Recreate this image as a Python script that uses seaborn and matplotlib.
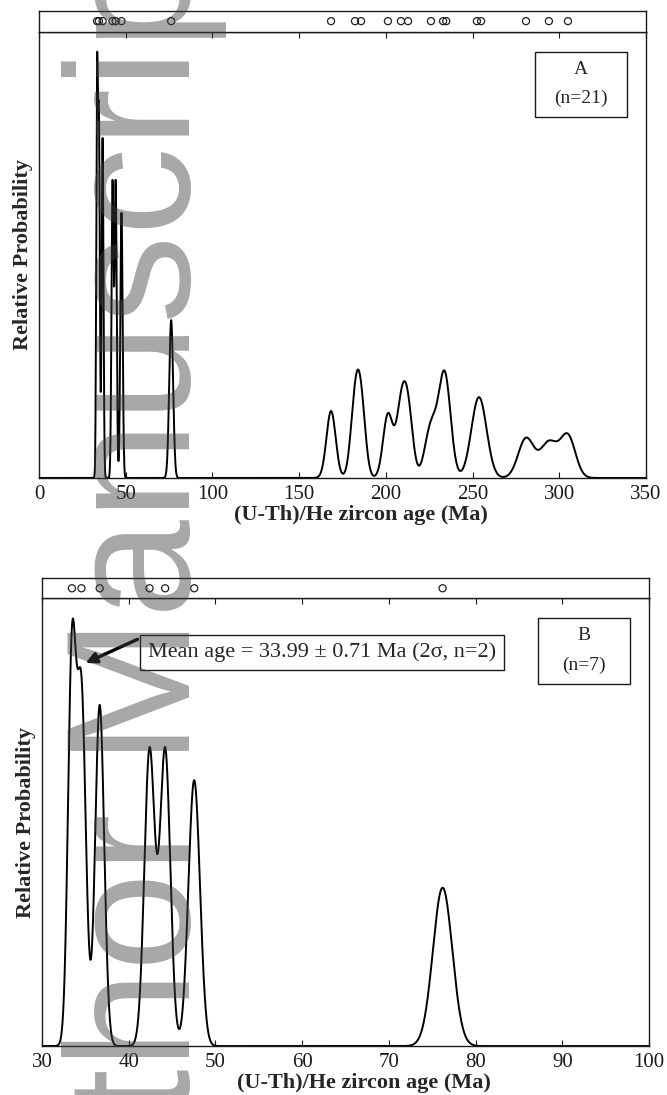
import numpy as np
import pandas as pd
import matplotlib
matplotlib.use("Agg")
import matplotlib.pyplot as plt
import seaborn as sns
from matplotlib.patches import Rectangle

# single-grain (U-Th)/He zircon ages (Ma) and 1-sigma errors
young_ages = [33.45, 34.55, 36.65, 42.40, 44.20, 47.55, 76.20]
young_err = [0.46, 0.51, 0.52, 0.60, 0.60, 0.667, 1.12]
old_ages = [168.4, 182.2, 185.7, 201.2, 208.7, 212.8, 226.0,
            233.0, 234.8, 252.5, 254.9, 280.8, 294.0, 305.0]
old_err = [2.64, 2.6, 2.6, 2.8, 2.8, 2.8, 3.5,
           3.3, 3.3, 4.2, 4.2, 4.5, 5.0, 4.3]

ticks_a = [0, 50, 100, 150, 200, 250, 300, 350]
ticks_b = [30, 40, 50, 60, 70, 80, 90, 100]
mean_label = "Mean age = 33.99 \u00b1 0.71 Ma (2\u03c3, n=2)"

sns.set_theme(style="white")
plt.rcParams["font.family"] = ["Liberation Serif", "DejaVu Serif"]

INK = "#1a1a1a"


def pdp(grid, ages, errs):
    # probability density plot: sum of unit-area gaussians, scaled to max 1
    a = np.asarray(ages)[:, None]
    s = np.asarray(errs)[:, None]
    dens = (np.exp(-0.5 * ((grid[None, :] - a) / s) ** 2) / (s * np.sqrt(2 * np.pi))).sum(axis=0)
    return dens / dens.max()


def panel(ax, strip, ages, errs, xlim, ticks, letter, n):
    grid = np.linspace(xlim[0], xlim[1], 8001)
    df = pd.DataFrame({"age": grid, "prob": pdp(grid, ages, errs)})
    sns.lineplot(data=df, x="age", y="prob", ax=ax, color="black", lw=1.4)
    ytop = 1 / 0.955
    ax.set_xlim(*xlim)
    ax.set_ylim(0, ytop)
    ax.set_xticks(ticks)
    ax.set_yticks([])
    ax.tick_params(axis="x", direction="in", length=4, width=0.8, top=True,
                   bottom=True, labelsize=15, pad=5, colors=INK)
    ax.set_xlabel("(U-Th)/He zircon age (Ma)", fontsize=16, fontweight="bold")
    ax.xaxis.set_label_coords(0.53, -0.06)
    ax.set_ylabel("Relative Probability", fontsize=16, fontweight="bold", labelpad=4)
    for sp in ax.spines.values():
        sp.set_color(INK)
        sp.set_linewidth(1.0)

    # label box in the upper right corner
    ax.add_patch(Rectangle((0.817, 0.809), 0.151, 0.146, transform=ax.transAxes,
                           fc="white", ec=INK, lw=1.0, zorder=4))
    ax.text(0.893, 0.916, letter, transform=ax.transAxes, ha="center", va="center",
            fontsize=14, zorder=5)
    ax.text(0.893, 0.851, f"(n={n})", transform=ax.transAxes, ha="center", va="center",
            fontsize=14, zorder=5)

    # strip with the individual grain ages
    sdf = pd.DataFrame({"age": ages, "row": np.zeros(len(ages))})
    sns.scatterplot(data=sdf, x="age", y="row", ax=strip, marker="o", s=26,
                    facecolors="none", edgecolors="#202020", linewidth=0.9)
    strip.set_xlim(*xlim)
    strip.set_ylim(-1, 1)
    strip.set_xticks([])
    strip.set_yticks([])
    strip.set_xlabel("")
    strip.set_ylabel("")
    for sp in strip.spines.values():
        sp.set_color(INK)
        sp.set_linewidth(1.0)
    return ytop


fig = plt.figure(figsize=(6.67, 10.95), dpi=100)
ax_a = fig.add_axes([0.0585, 0.5635, 0.910, 0.4076])
strip_a = fig.add_axes([0.0585, 0.9711, 0.910, 0.0192])
ax_b = fig.add_axes([0.063, 0.0447, 0.910, 0.4089])
strip_b = fig.add_axes([0.063, 0.4536, 0.910, 0.0183])

ages_a = young_ages + old_ages
err_a = young_err + old_err
panel(ax_a, strip_a, ages_a, err_a, (0, 350), ticks_a, "A", len(ages_a))
panel(ax_b, strip_b, young_ages, young_err, (30, 100), ticks_b, "B", len(young_ages))

# annotation of the two youngest grains in panel B
ax_b.annotate("", xy=(34.73, 0.853), xycoords=("data", "axes fraction"),
              xytext=(41.3, 0.911), textcoords=("data", "axes fraction"),
              arrowprops=dict(arrowstyle="-|>", lw=2.4, color="black", mutation_scale=16))
ax_b.text(0.461, 0.879, mean_label, transform=ax_b.transAxes, ha="center", va="center",
          fontsize=16, zorder=5,
          bbox=dict(boxstyle="square,pad=0.35", fc="white", ec=INK, lw=1.0))

# manuscript watermark
fig.text(0.285, 0.436, "Author Manuscript", rotation=90, rotation_mode="anchor",
         ha="center", va="baseline", fontsize=127, family=["Liberation Sans", "DejaVu Sans"],
         color="#404040", alpha=0.46, zorder=10)

fig.savefig("out.png", dpi=100)
